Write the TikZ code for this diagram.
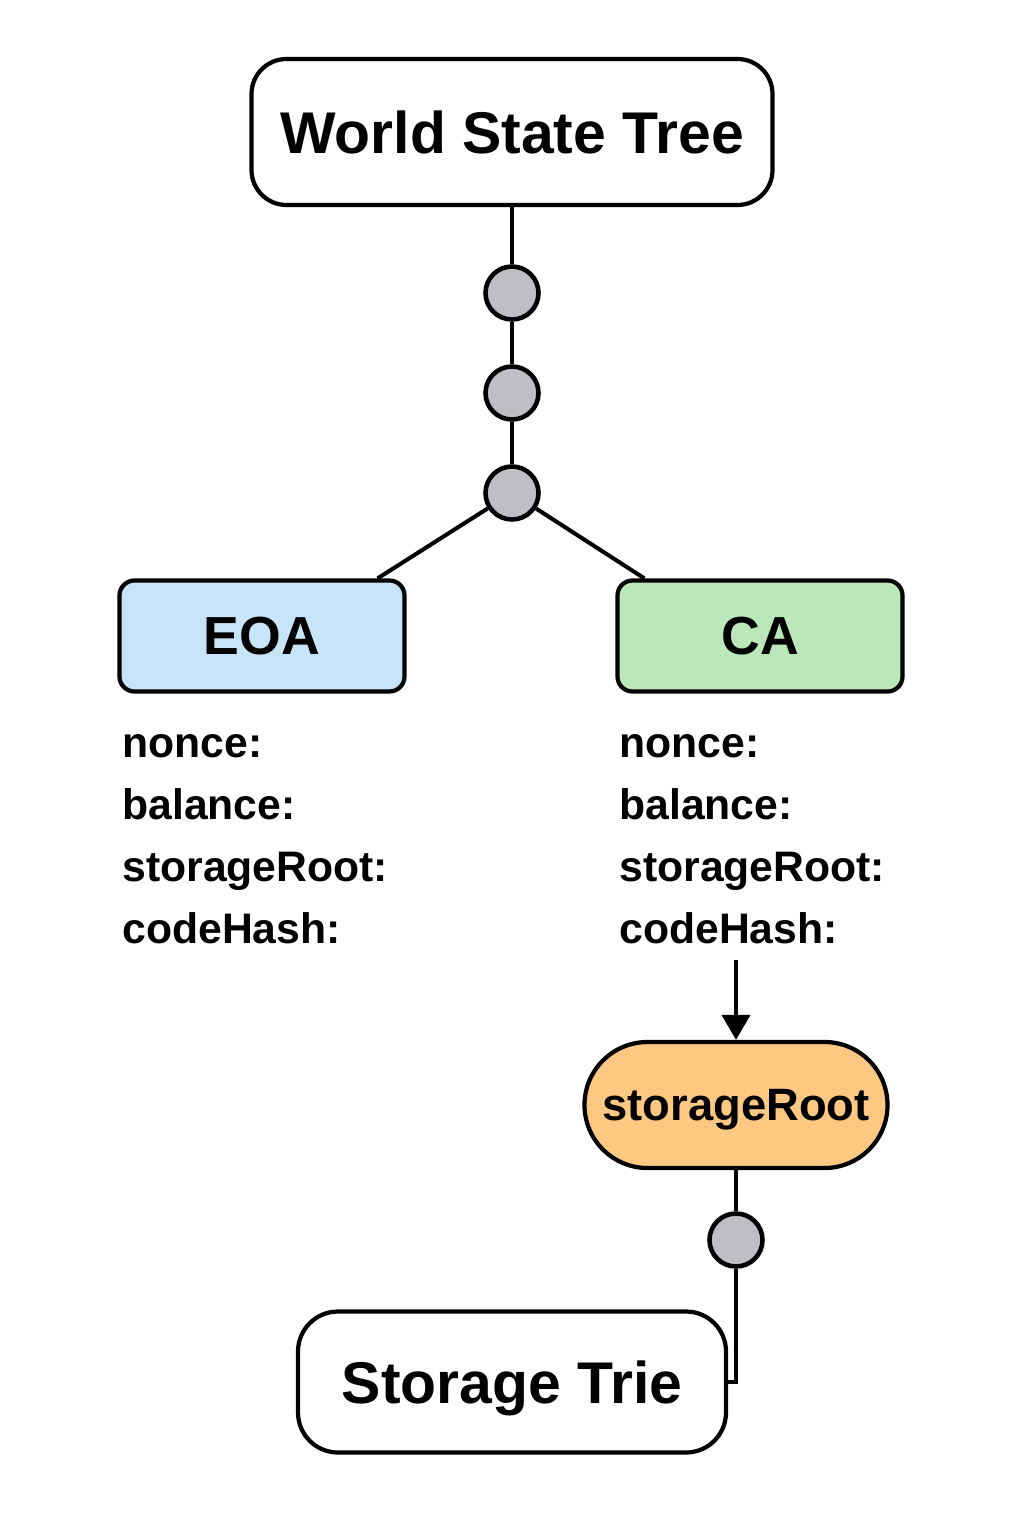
\documentclass[tikz,border=0pt]{standalone}
\usepackage{fontspec}
\setmainfont{Liberation Sans}
\usepackage{tikz}
\usetikzlibrary{arrows.meta}

\definecolor{nodegray}{RGB}{190,190,196}
\definecolor{eoablue}{RGB}{199,228,248}
\definecolor{cagreen}{RGB}{186,232,186}
\definecolor{rootorange}{RGB}{253,200,130}

\tikzset{
  bigbox/.style={draw,line width=2.4pt,rounded corners=0.7cm,fill=white,text depth=0pt,font=\bfseries\fontsize{33.5}{40}\selectfont},
  acctbox/.style={draw,line width=2.4pt,rounded corners=0.3cm,minimum width=5.7cm,minimum height=2.22cm,font=\bfseries\fontsize{30.5}{36}\selectfont},
  trienode/.style={circle,draw,line width=2.6pt,fill=nodegray,minimum size=1.06cm,inner sep=0pt},
  field/.style={anchor=base west,inner sep=0pt,font=\bfseries\fontsize{24.3}{30}\selectfont},
  link/.style={line width=2.3pt}
}

\begin{document}
\begin{tikzpicture}
\useasboundingbox (0,0) rectangle (20.48,-30.72);

\node[bigbox,minimum width=10.42cm,minimum height=2.92cm] (world) at (10.24,-2.64) {World State Tree};

\node[trienode] (c1) at (10.24,-5.86) {};
\node[trienode] (c2) at (10.24,-7.86) {};
\node[trienode] (c3) at (10.24,-9.86) {};

\node[acctbox,fill=eoablue] (eoa) at (5.24,-12.72) {EOA};
\node[acctbox,fill=cagreen] (ca) at (15.2,-12.72) {CA};

\draw[link] (world) -- (c1);
\draw[link] (c1) -- (c2);
\draw[link] (c2) -- (c3);
\draw[link] (c3) -- ([xshift=-0.58cm]eoa.north east);
\draw[link] (c3) -- ([xshift=0.58cm]ca.north west);

% account fields
\foreach \f [count=\i] in {nonce:,balance:,storageRoot:,codeHash:} {
  \node[field] (eoaf\i) at (2.44,-15.14-1.24*\i+1.24) {\f};
  \node[field] (caf\i) at (12.38,-15.14-1.24*\i+1.24) {\f};
}

\node[draw,line width=2.4pt,fill=rootorange,rounded corners=1.26cm,minimum width=6.06cm,minimum height=2.52cm,text depth=0pt,font=\bfseries\fontsize{25.8}{30}\selectfont] (root) at (14.72,-22.1) {storageRoot};
\coordinate (hashout) at (14.72,-19.2);
\draw[link,-{Triangle[length=5mm,width=5.6mm]}] (hashout) -- (root.north);

\node[trienode] (c4) at (14.72,-24.8) {};
\node[bigbox,rounded corners=0.8cm,minimum width=8.56cm,minimum height=2.82cm] (trie) at (10.24,-27.64) {Storage Trie};

\draw[link] (root) -- (c4);
\draw[line width=1.8pt] (c4) |- (trie.east);

\end{tikzpicture}
\end{document}
